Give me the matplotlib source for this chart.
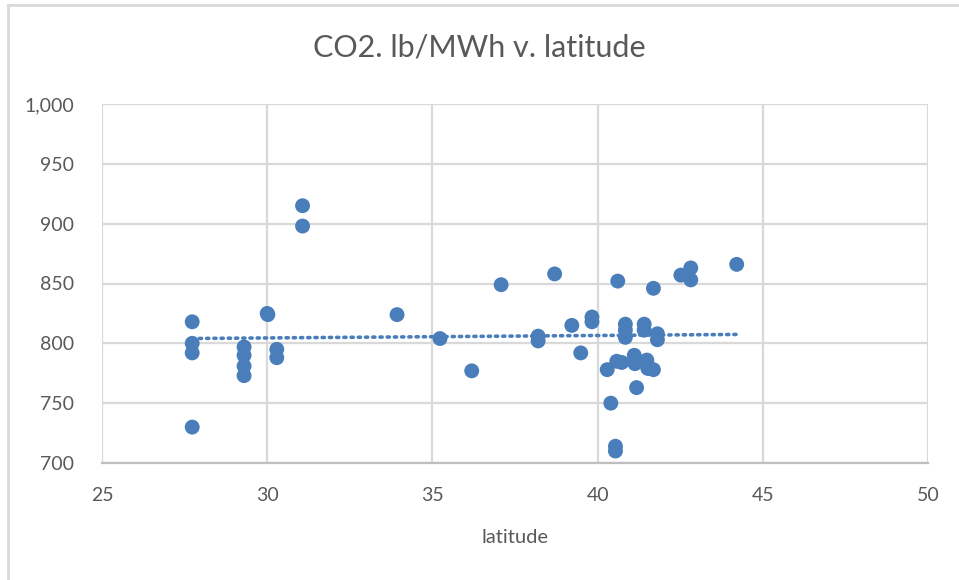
import numpy as np
import matplotlib.pyplot as plt
from matplotlib.lines import Line2D

# latitude (deg) and CO2 emission rate (lb/MWh)
latitude = [27.73, 27.73, 27.73, 27.73,
            29.30, 29.30, 29.30, 29.30,
            30.00, 30.02, 30.29, 30.29,
            31.07, 31.07, 33.93, 35.23, 36.19, 37.08,
            38.20, 38.20, 38.70, 39.22, 39.49, 39.83, 39.83,
            40.29, 40.40, 40.54, 40.54, 40.61, 40.58, 40.73,
            40.84, 40.84, 40.84, 41.11, 41.13, 41.18,
            41.41, 41.41, 41.49, 41.52, 41.69, 41.69,
            41.81, 41.81, 42.52, 42.82, 42.82, 44.21]
co2 = [818, 800, 792, 730,
       797, 790, 781, 773,
       825, 824, 795, 788,
       915, 898, 824, 804, 777, 849,
       806, 802, 858, 815, 792, 822, 818,
       778, 750, 714, 710, 852, 785, 784,
       816, 811, 805, 790, 783, 763,
       816, 811, 786, 779, 778, 846,
       808, 803, 857, 863, 853, 866]

x_ticks = [25, 30, 35, 40, 45, 50]
y_ticks = [700, 750, 800, 850, 900, 950, 1000]

blue = '#4a7ebb'
grid_col = '#d9d9d9'
text_col = '#595959'
plt.rcParams['font.family'] = ['Lato', 'DejaVu Sans']

fig = plt.figure(figsize=(9.59, 5.8), dpi=100)
ax = fig.add_axes([102/959, 1 - 463/580, (928 - 102)/959, (463 - 104)/580])

ax.scatter(latitude, co2, s=115, color=blue, edgecolors='none', zorder=3)

# linear trendline over the data range
slope, icpt = np.polyfit(latitude, co2, 1)
xt = np.array([min(latitude), max(latitude)])
ax.plot(xt, slope * xt + icpt, linestyle=(0, (0.6, 1.4)), color=blue,
        linewidth=2.6, dash_capstyle='round', zorder=2)

ax.set_xlim(25, 50)
ax.set_ylim(700, 1000)
ax.set_xticks(x_ticks)
ax.set_yticks(y_ticks)
ax.set_yticklabels([f'{v:,}' for v in y_ticks])
ax.grid(True, color=grid_col, linewidth=1.6, zorder=0)
ax.set_axisbelow(True)
for side in ['top', 'right', 'left']:
    ax.spines[side].set_visible(False)
ax.spines['bottom'].set_color('#bfbfbf')
ax.spines['bottom'].set_linewidth(1.6)
ax.tick_params(length=0, labelsize=14, colors=text_col)
ax.tick_params(axis='x', pad=17)
ax.tick_params(axis='y', pad=20)

ax.set_xlabel('latitude', fontsize=14.5, color=text_col, labelpad=18)
fig.text(0.5, 1 - 48/580, 'CO2. lb/MWh v. latitude', ha='center', va='center',
         fontsize=22, color=text_col)

# chart frame
fig.add_artist(Line2D([8/959, 8/959], [0, 1 - 5/580], color=grid_col, linewidth=2,
                      transform=fig.transFigure))
fig.add_artist(Line2D([8/959, 1], [1 - 5/580, 1 - 5/580], color=grid_col, linewidth=2,
                      transform=fig.transFigure))

fig.savefig('out.png', dpi=100)
